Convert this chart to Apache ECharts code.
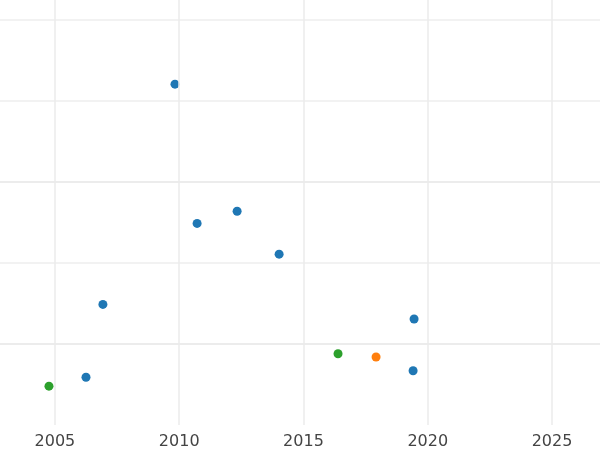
<!DOCTYPE html><html><head><meta charset="utf-8"><script src="https://cdn.jsdelivr.net/npm/echarts@6/dist/echarts.min.js"></script></head><body style="margin:0"><div id="c" style="width:600px;height:450px"></div><script>
const xTicks=[2005,2010,2015,2020,2025];
const blue=[[2006.25,0.59],[2006.93,1.49],[2009.83,4.21],[2010.72,2.49],[2012.33,2.64],[2014.02,2.11],[2019.45,1.31],[2019.41,0.67]];
const orange=[[2017.92,0.84]];
const green=[[2004.76,0.48],[2016.39,0.88]];
const c=echarts.init(document.getElementById('c'));
const ml={silent:true,symbol:'none',label:{show:false},lineStyle:{color:'#ebebeb',width:1.5,type:'solid'},data:xTicks.map(v=>({xAxis:v}))};
c.setOption({animation:false,grid:{left:0,right:0,top:0,bottom:23},
xAxis:{type:'value',min:2002.79,max:2026.93,axisLine:{show:false},axisTick:{show:false},splitLine:{show:false},
axisLabel:{customValues:xTicks,formatter:v=>String(v),color:'#444',fontSize:16,margin:9,fontFamily:'DejaVu Sans'}},
yAxis:{type:'value',min:0,max:5.25,interval:1,axisLabel:{show:false},axisLine:{show:false},axisTick:{show:false},
splitLine:{lineStyle:{color:['transparent','#e6e6e6','#eeeeee','#e6e6e6','#eeeeee','#eeeeee'],width:1.5}}},
series:[
{type:'scatter',data:blue,symbolSize:9,itemStyle:{color:'#1f77b4',opacity:1},markLine:ml,z:3},
{type:'scatter',data:orange,symbolSize:9,itemStyle:{color:'#ff7f0e',opacity:1}},
{type:'scatter',data:green,symbolSize:9,itemStyle:{color:'#2ca02c',opacity:1}}]});
</script></body></html>
